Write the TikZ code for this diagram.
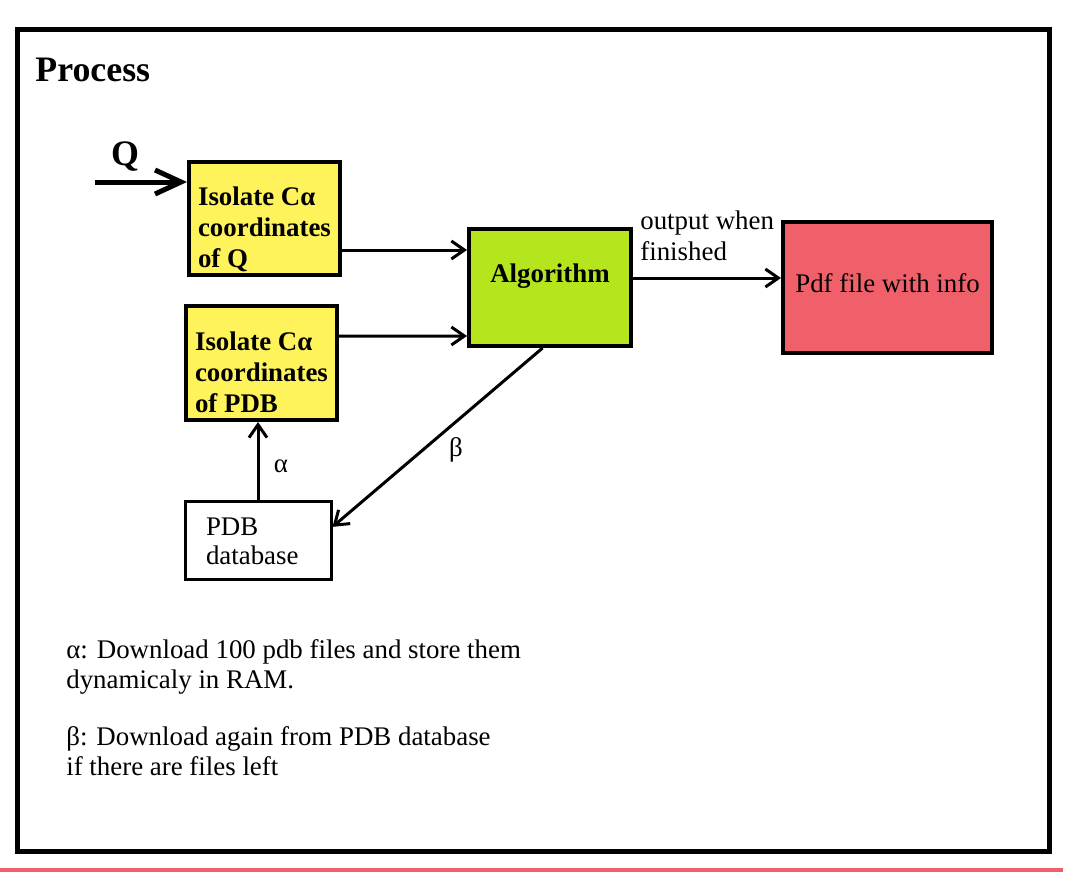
\documentclass[tikz,border=0pt]{standalone}
\usepackage{fontspec}
\setmainfont{Liberation Serif}
\usetikzlibrary{positioning, calc, arrows.meta}
\newcommand{\px}{0.02cm}
\newcommand{\bodyfont}{\fontsize{15.3}{17}\selectfont}
\newcommand{\boxfont}{\fontsize{15.3}{17.5}\selectfont}
\newcommand{\bigfont}{\fontsize{20.4}{24}\selectfont}
\definecolor{boxyellow}{HTML}{FFF35C}
\definecolor{algreen}{HTML}{B5E61D}
\definecolor{pdfred}{HTML}{F0606A}

\tikzset{
    box/.style={draw, line width=4*\px, inner sep=0pt, align=left, font=\bfseries\boxfont},
    flow/.style={-{Straight Barb[length=0.26cm, width=0.36cm]}, line width=3*\px},
    note/.style={anchor=base west, align=left, inner sep=0pt, font=\bodyfont}
}

\begin{document}
\begin{tikzpicture}[x=\px, y=-\px]
    \useasboundingbox (0, 0) rectangle (1078, 882);

    % frame and bottom rule
    \draw[line width=5*\px] (17.5, 29.5) rectangle (1049.5, 851);
    \draw[pdfred, line width=4*\px] (0, 870) -- (1063, 870);

    \node[anchor=base west, inner sep=0pt, font=\bfseries\bigfont] (title) at (35, 82) {Process};

    % boxes
    \node[box, fill=boxyellow, minimum width=151*\px, minimum height=113*\px,
        text height=98*\px, text depth=0pt] (qbox) at (264.5, 218) {Isolate Cα\\coordinates\\of Q};
    \node[box, fill=boxyellow, minimum width=151*\px, minimum height=114*\px,
        text height=98*\px, text depth=0pt] (pbox) at (261.5, 363) {Isolate Cα\\coordinates\\of PDB};
    \node[box, fill=algreen, minimum width=162*\px, minimum height=117*\px,
        text height=0pt, text depth=11*\px] (alg) at (550, 287.5) {Algorithm};
    \node[box, fill=pdfred, minimum width=209*\px, minimum height=131*\px,
        text height=9*\px, text depth=0pt, font=\fontsize{15.3}{17}\selectfont] (pdf) at (887.5, 287.5) {Pdf file with info};
    \node[box, line width=3*\px, minimum width=146*\px, minimum height=78*\px, font=\bodyfont,
        text width=104*\px, text height=0pt, text depth=10*\px] (db) at (258, 540) {PDB\\database};

    % input Q
    \coordinate (qin) at (95, 182);
    \node[inner sep=0pt, font=\bfseries\bigfont] (qlabel) at (125, 157) {Q};
    \draw[-{Straight Barb[length=0.52cm, width=0.48cm]}, line width=5*\px] (qin) -- (qin -| qbox.west);

    % connectors
    \draw[flow] ($(qbox.east) + (0, 32)$) -- ($(alg.west) + (0, -37.5)$);
    \draw[flow] ($(pbox.east) + (0, -27)$) -- ($(alg.west) + (0, 48.5)$);
    \draw[flow] ($(alg.east) + (0, -9.5)$) -- ($(pdf.west) + (0, -9.5)$);
    \draw[flow] (db.north) -- (db.north |- pbox.south);
    \draw[flow] (alg.263) -- (db.10);

    % labels
    \node[anchor=north west, inner sep=0pt, align=left, font=\fontsize{15.3}{18}\selectfont] (outlabel) at (640, 210) {output when\\finished};
    \node[font=\bodyfont] (alabel) at (281, 466) {α};
    \node[font=\bodyfont] (blabel) at (456, 450) {β};

    % notes
    \node[note] (anote) at (66, 688) {α: Download 100 pdb files and store them\\dynamicaly in RAM.};
    \node[note] (bnote) at (66, 775) {β: Download again from PDB database\\if there are files left};
\end{tikzpicture}
\end{document}
